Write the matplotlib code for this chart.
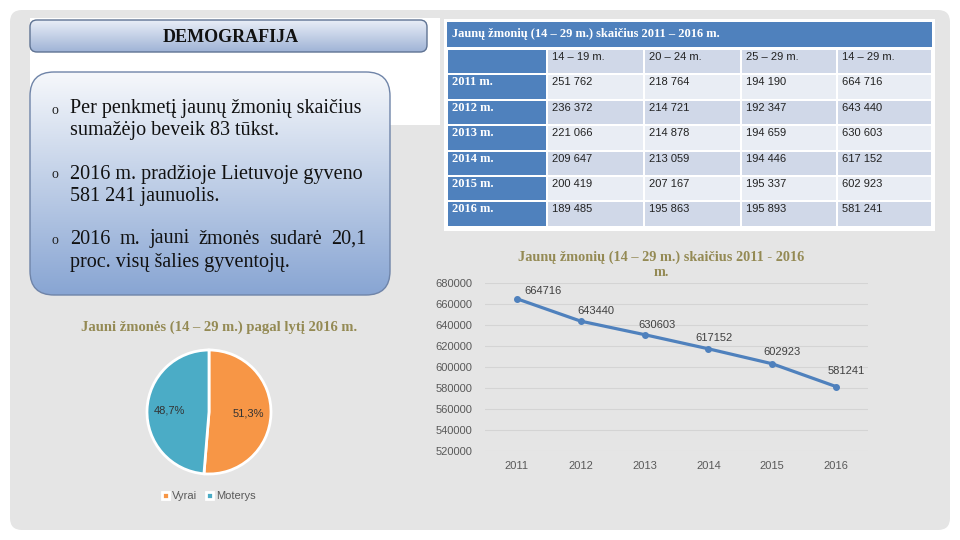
import numpy as np
import matplotlib
matplotlib.use('Agg')
import matplotlib.pyplot as plt
from matplotlib.patches import FancyBboxPatch, Rectangle
from matplotlib.colors import LinearSegmentedColormap

# data
years = [2011, 2012, 2013, 2014, 2015, 2016]
age_groups = ['14 – 19 m.', '20 – 24 m.', '25 – 29 m.', '14 – 29 m.']
age_14_19 = [251762, 236372, 221066, 209647, 200419, 189485]
age_20_24 = [218764, 214721, 214878, 213059, 207167, 195863]
age_25_29 = [194190, 192347, 194659, 194446, 195337, 195893]
totals = [664716, 643440, 630603, 617152, 602923, 581241]

gender_labels = ['Vyrai', 'Moterys']
gender_share = [51.3, 48.7]

table_title = 'Jaunų žmonių (14 – 29 m.) skaičius 2011 – 2016 m.'
line_title = 'Jaunų žmonių (14 – 29 m.) skaičius 2011 - 2016\nm.'
pie_title = 'Jauni žmonės (14 – 29 m.) pagal lytį 2016 m.'
slide_title = 'DEMOGRAFIJA'
bullets = [
    ['Per penkmetį jaunų žmonių skaičius', 'sumažėjo beveik 83 tūkst.'],
    ['2016 m. pradžioje Lietuvoje gyveno', '581 241 jaunuolis.'],
    ['2016 m. jauni žmonės sudarė 20,1', 'proc. visų šalies gyventojų.'],
]

SERIF = 'Liberation Serif'
SANS = 'Liberation Sans'
BLUE = '#4f81bd'
OLIVE = '#948a54'


def fmt(v):
    return f'{v:,}'.replace(',', ' ')


def gradient_box(ax, x, y, w, h, r, c_top, c_bot, ec, z):
    box = FancyBboxPatch((x, y), w, h, boxstyle=f'round,pad=0,rounding_size={r}',
                         fc='none', ec=ec, lw=1.0, zorder=z + 1)
    ax.add_patch(box)
    cmap = LinearSegmentedColormap.from_list('g', [c_top, c_bot])
    grad = np.linspace(0, 1, 256).reshape(-1, 1)
    im = ax.imshow(grad, extent=[x, x + w, y + h, y], cmap=cmap, aspect='auto',
                   zorder=z, interpolation='bicubic')
    im.set_clip_path(box)
    return box


fig = plt.figure(figsize=(9.6, 5.4), dpi=100)
fig.patch.set_facecolor('white')

# overlay in pixel coordinates
ax0 = fig.add_axes([0, 0, 1, 1], zorder=0)
ax0.axis('off')

ax0.add_patch(FancyBboxPatch((10, 10), 940, 520, boxstyle='round,pad=0,rounding_size=12',
                             fc='#e5e5e5', ec='none', zorder=0))
ax0.add_patch(Rectangle((30, 18), 410, 107, fc='white', ec='none', zorder=1))

gradient_box(ax0, 30, 20, 397, 32, 7, '#e9eef7', '#9fb3d6', '#5f7393', 2)
ax0.text(231, 37, slide_title, fontsize=13, fontweight='bold', family=SERIF,
         ha='center', va='center', color='#111111', zorder=5)

gradient_box(ax0, 30, 72, 360, 223, 24, '#f6f8fb', '#88a5d3', '#6f84a8', 2)

bullet_y = [(109, 131), (174, 196), (239, 262)]
fs_b = 14.5
fig.canvas.draw()
renderer = fig.canvas.get_renderer()
for i, (lines, ys) in enumerate(zip(bullets, bullet_y)):
    ax0.text(55, ys[0] + 1, 'o', fontsize=10, family=SERIF, ha='center', va='center',
             color='#222222', zorder=5)
    for j, (line, yy) in enumerate(zip(lines, ys)):
        if i == 2 and j == 0:
            # justified line
            words = line.split(' ')
            objs = [ax0.text(0, yy, w, fontsize=fs_b, family=SERIF, va='center',
                             color='#111111', zorder=5) for w in words]
            widths = [o.get_window_extent(renderer).width for o in objs]
            gap = (366 - 70 - sum(widths)) / (len(words) - 1)
            xx = 70
            for o, wd in zip(objs, widths):
                o.set_x(xx)
                xx += wd + gap
        else:
            ax0.text(70, yy, line, fontsize=fs_b, family=SERIF, va='center',
                     color='#111111', zorder=5)

# table
col_edges = [447, 547, 644, 741, 837, 932]
row_top = 49
row_h = 25.4
ax0.add_patch(Rectangle((444, 19), 491, 212, fc='white', ec='none', zorder=2))
ax0.add_patch(Rectangle((447, 22), 485, 25, fc=BLUE, ec='none', zorder=3))
ax0.text(452, 34, table_title, fontsize=9, fontweight='bold', family=SERIF,
         color='white', va='center', zorder=5)

columns = [age_14_19, age_20_24, age_25_29, totals]
for r in range(len(years) + 1):
    top = row_top + r * row_h
    light = (r % 2 == 1)
    for c in range(5):
        x0, x1 = col_edges[c] + 1, col_edges[c + 1] - 1
        if c == 0:
            fc = BLUE
        else:
            fc = '#e9edf4' if light else '#d0d8e8'
        ax0.add_patch(Rectangle((x0, top + 1), x1 - x0, row_h - 2, fc=fc, ec='none', zorder=3))
        if r == 0 and c > 0:
            ax0.text(x0 + 4, top + 8, age_groups[c - 1], fontsize=8, family=SANS,
                     color='#222222', va='center', zorder=5)
        elif r > 0 and c == 0:
            ax0.text(x0 + 4, top + 8, f'{years[r - 1]} m.', fontsize=9, fontweight='bold',
                     family=SERIF, color='white', va='center', zorder=5)
        elif r > 0:
            ax0.text(x0 + 4, top + 8, fmt(columns[c - 1][r - 1]), fontsize=8, family=SANS,
                     color='#222222', va='center', zorder=5)

ax0.set_xlim(0, 960)
ax0.set_ylim(540, 0)

# line chart
ax1 = fig.add_axes([485 / 960, (540 - 451) / 540, 383 / 960, 168.3 / 540], zorder=2)
ax1.patch.set_alpha(0)
x = np.arange(len(years))
ax1.plot(x, totals, color=BLUE, lw=2.3, marker='o', ms=4, zorder=3)
ax1.set_xlim(-0.5, 5.5)
ax1.set_ylim(520000, 680000)
ax1.set_yticks(np.arange(520000, 680001, 20000))
ax1.set_xticks(x)
ax1.set_xticklabels([str(y) for y in years])
ax1.grid(axis='y', color='#d4d4d4', lw=0.8)
ax1.set_axisbelow(True)
for s in ax1.spines.values():
    s.set_visible(False)
ax1.tick_params(length=0, labelsize=8, labelcolor='#595959')
ax1.tick_params(axis='y', pad=9)
ax1.tick_params(axis='x', pad=7)
for lab in ax1.get_xticklabels() + ax1.get_yticklabels():
    lab.set_family(SANS)
label_off = [(26, 8), (15, 10), (12, 10), (6, 11), (10, 12), (10, 16)]
for xi, v, (dx, dy) in zip(x, totals, label_off):
    ax1.annotate(str(v), (xi, v), xytext=(dx * 0.72, dy * 0.72), textcoords='offset points',
                 ha='center', va='center', fontsize=8, family=SANS, color='#404040')
ax1.set_title(line_title, fontsize=10.3, fontweight='bold', family=SERIF, color=OLIVE,
              pad=5, linespacing=1.2, x=0.46)

# pie chart
ax2 = fig.add_axes([131.5 / 960, (540 - 489.5) / 540, 155 / 960, 155 / 540], zorder=2)
wedges, _, autotexts = ax2.pie(
    gender_share, colors=['#f79646', '#4bacc6'], startangle=90, counterclock=False,
    autopct=lambda p: f'{p:.1f}%'.replace('.', ','), pctdistance=0.64,
    wedgeprops=dict(edgecolor='white', linewidth=2),
    textprops=dict(fontsize=8, family=SANS, color='#333333'))
ax2.legend(wedges, gender_labels, loc='center', bbox_to_anchor=(0.5, -0.042), ncol=2,
           frameon=False, handlelength=0.6, handleheight=0.6, handletextpad=0.3,
           columnspacing=0.8, prop=dict(family=SANS, size=8), labelcolor='#595959')
ax0.text(219, 327, pie_title, fontsize=10.5, fontweight='bold', family=SERIF, color=OLIVE,
         ha='center', va='center', zorder=5)

fig.savefig('out.png', dpi=100, facecolor=fig.get_facecolor())
